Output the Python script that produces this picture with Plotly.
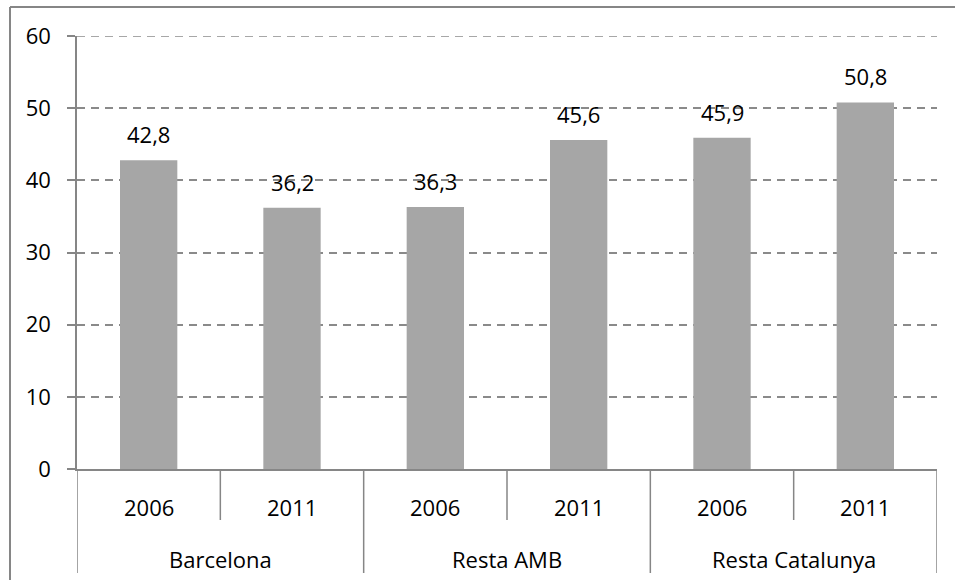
import plotly.graph_objects as go

groups = ["Barcelona", "Resta AMB", "Resta Catalunya"]
years = ["2006", "2011"]
values = [42.8, 36.2, 36.3, 45.6, 45.9, 50.8]
y_max = 60

W, H = 955, 580
L, R, T, B = 77, 18, 36, 111
PW, PH = W - L - R, H - T - B

AXIS = "#868686"
GRID = "#8a8a8a"
BAR = "#a6a6a6"
FONT = "Open Sans"
FS = 22


def px_x(p):
    return (p - L) / PW


def px_y(p):
    return (H - B - p) / PH


cats = [f"{g} {y}" for g in groups for y in years]

fig = go.Figure(go.Bar(
    x=cats, y=values, width=0.4,
    marker=dict(color=BAR, line_width=0),
    hoverinfo="skip",
))

# data labels above bars
for c, v in zip(cats, values):
    fig.add_annotation(x=c, y=v, text=f"{v:.1f}".replace(".", ","), showarrow=False,
                       yanchor="middle", yshift=26, font=dict(size=FS, color="black", family=FONT))

# year and group labels below the axis
for i, c in enumerate(cats):
    fig.add_annotation(x=c, y=px_y(507), yref="paper", text=years[i % len(years)], showarrow=False,
                       yanchor="middle", font=dict(size=FS, color="black", family=FONT))
for gi, g in enumerate(groups):
    mid = gi * len(years) + (len(years) - 1) / 2
    fig.add_annotation(x=mid, y=px_y(559), yref="paper", text=g, showarrow=False,
                       yanchor="middle", font=dict(size=FS, color="black", family=FONT))

line = dict(color=AXIS, width=1.5)
# dividers between years (short) and between groups (long)
n = len(cats)
for k in range(n + 1):
    low = 573 if k % len(years) == 0 else 520
    fig.add_shape(type="line", xref="x", yref="paper", x0=k - 0.5, x1=k - 0.5,
                  y0=0, y1=px_y(low), line=line)

# top gridline (plotly skips the one at the range edge)
fig.add_shape(type="line", xref="paper", yref="y", x0=0, x1=1, y0=y_max, y1=y_max,
              layer="below", line=dict(color=GRID, width=1.5, dash="8px,6px"))

# outer chart frame (left and top edges visible)
fig.add_shape(type="line", xref="paper", yref="paper", x0=px_x(10), x1=px_x(10),
              y0=px_y(7), y1=px_y(H + 5), line=dict(color=AXIS, width=2))
fig.add_shape(type="line", xref="paper", yref="paper", x0=px_x(10), x1=px_x(W + 5),
              y0=px_y(7), y1=px_y(7), line=dict(color=AXIS, width=2))

fig.update_layout(
    width=W, height=H,
    margin=dict(l=L, r=R, t=T, b=B),
    plot_bgcolor="white", paper_bgcolor="white",
    showlegend=False,
    font=dict(family=FONT, size=FS, color="black"),
    xaxis=dict(showticklabels=False, showline=True, linecolor=AXIS, linewidth=1.5,
               ticks="", showgrid=False, range=[-0.5, n - 0.5], fixedrange=True),
    yaxis=dict(range=[0, y_max], dtick=10, showline=True, linecolor=AXIS, linewidth=1.5,
               ticks="outside", ticklen=8, tickcolor=AXIS, tickwidth=1.5,
               ticklabelstandoff=12, zeroline=False,
               showgrid=True, gridcolor=GRID, gridwidth=1.5, griddash="8px,6px",
               tickfont=dict(size=FS, color="black", family=FONT), fixedrange=True),
)

fig.write_html("out.html", config={"displayModeBar": False},
               post_script="document.body.style.margin='0';")
